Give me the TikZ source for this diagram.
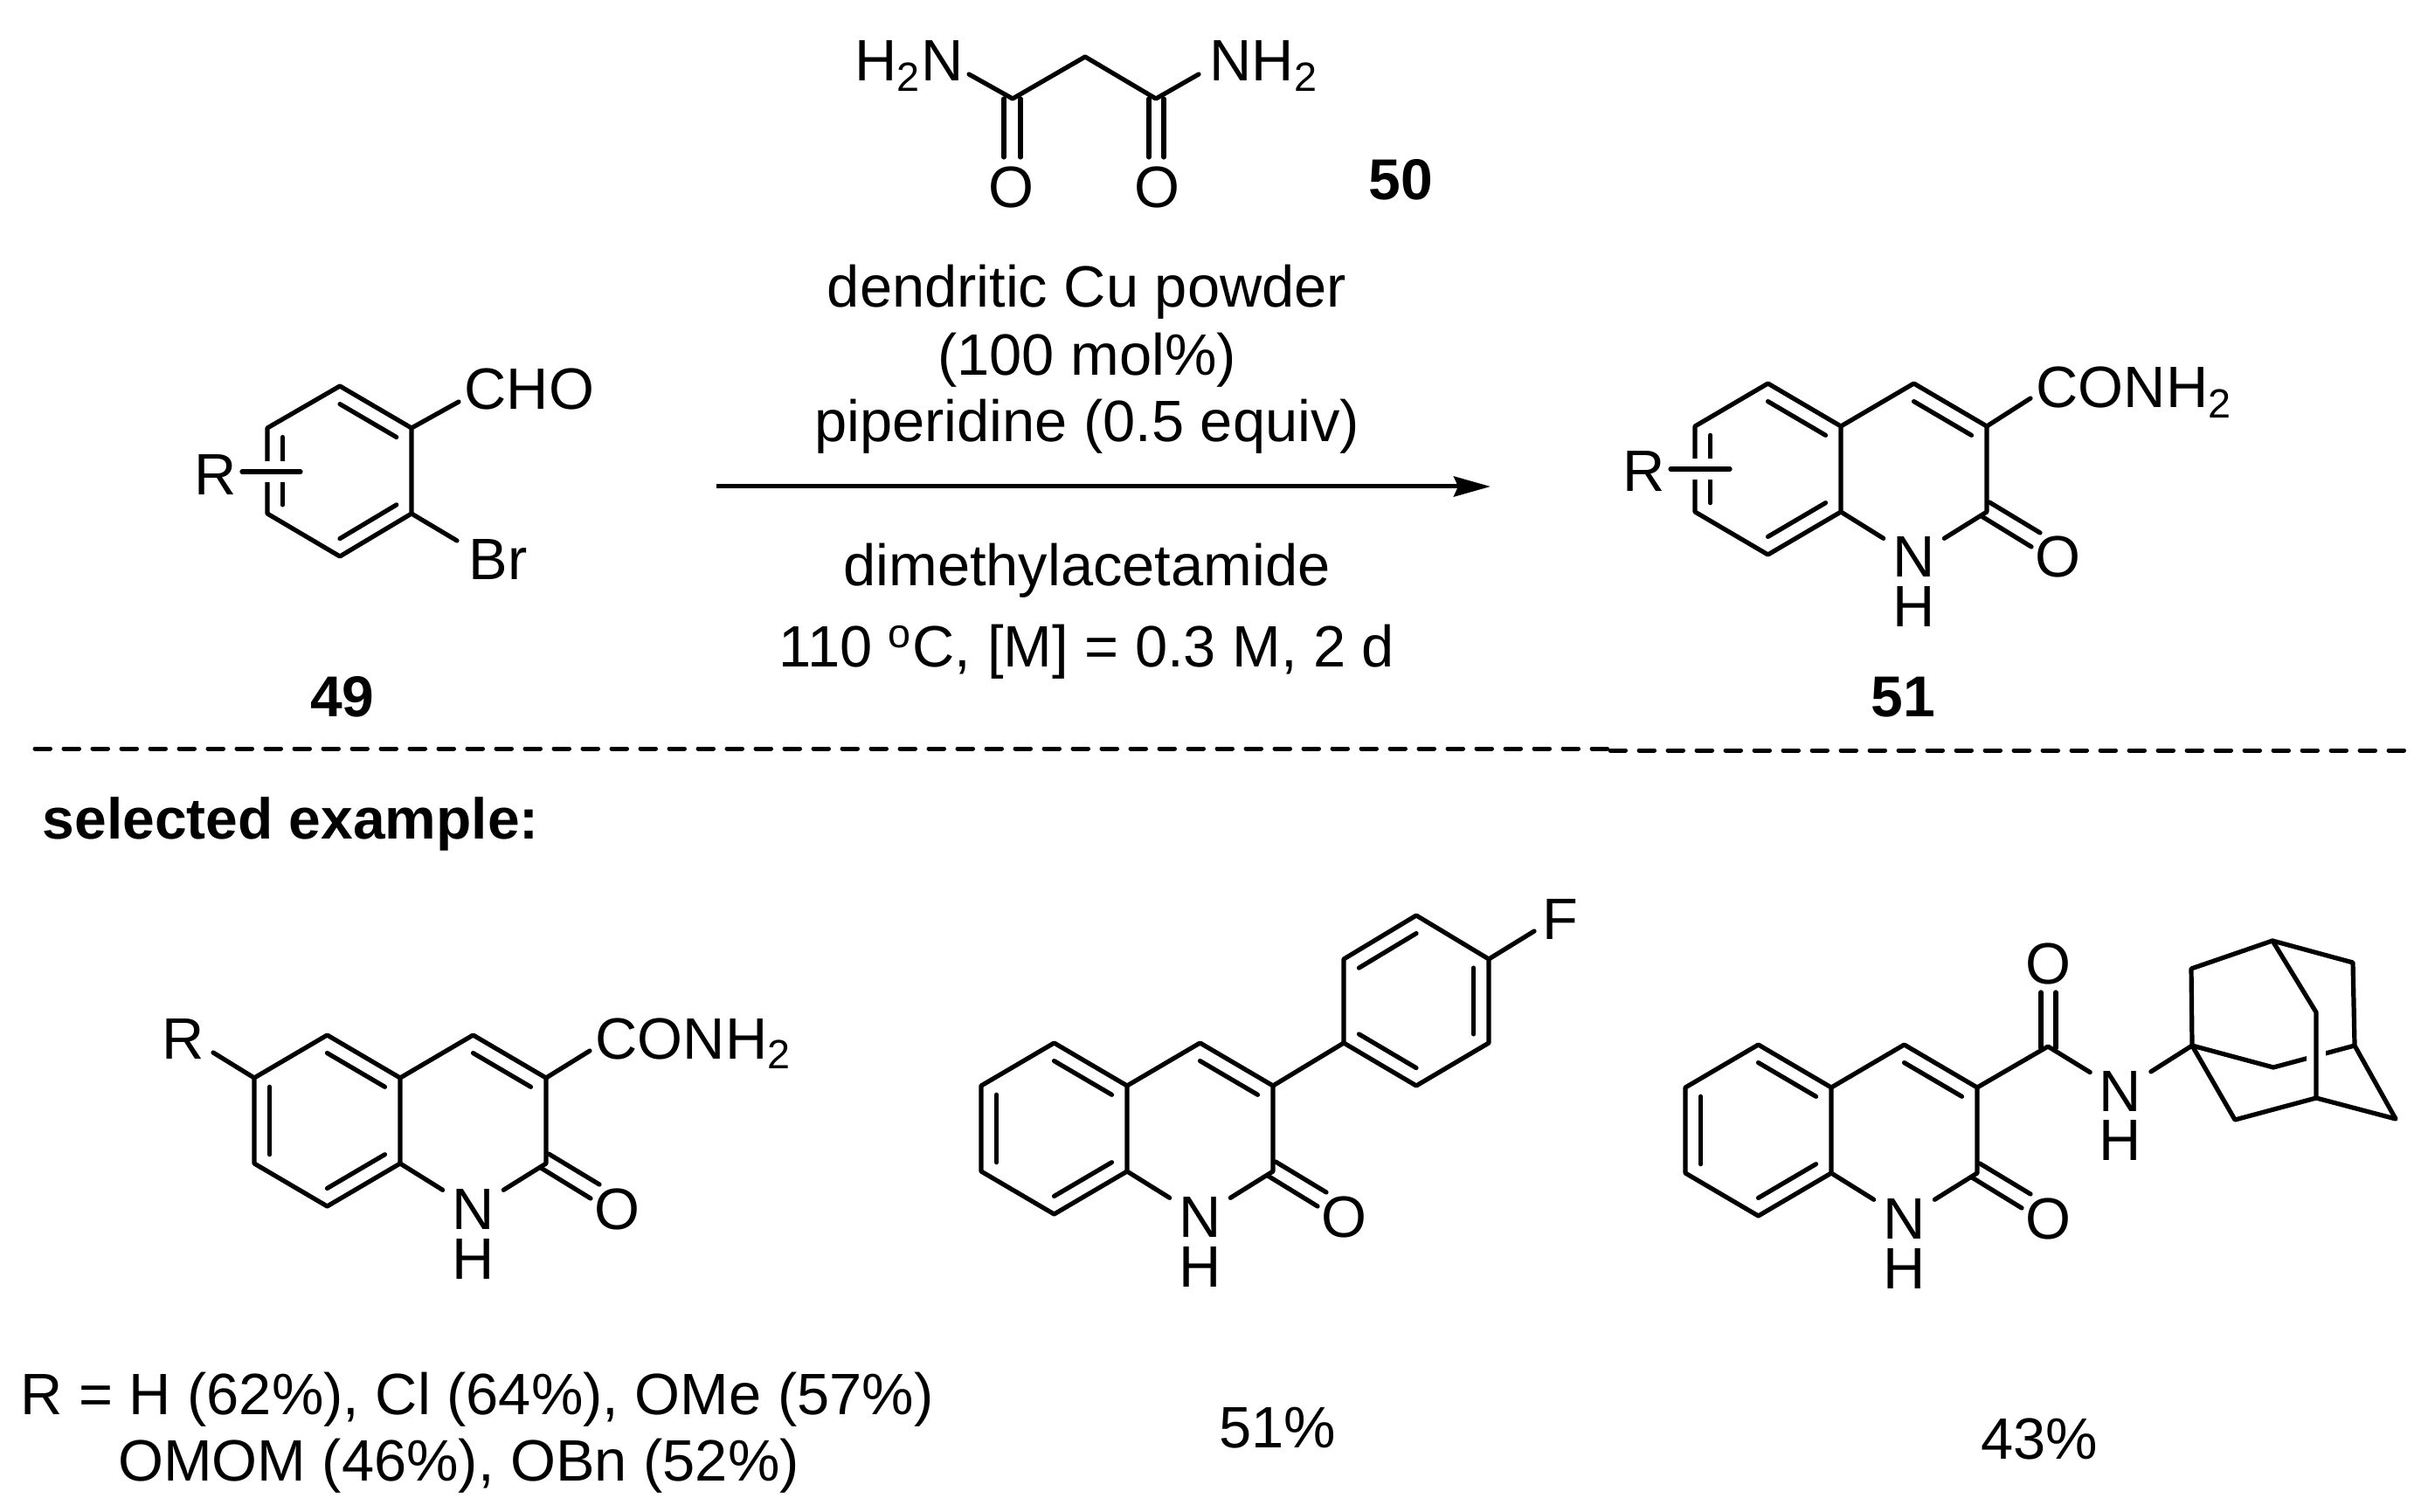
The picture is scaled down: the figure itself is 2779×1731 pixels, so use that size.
\documentclass[tikz,border=0pt]{standalone}
\usepackage{fontspec}
\setmainfont{Liberation Sans}
\usetikzlibrary{arrows.meta, calc}

\newcommand{\dbl}[3]{\draw[bond style] ($(#3)!0.79!(#1)$) -- ($(#3)!0.79!(#2)$);}

\newcommand{\quinolone}[3]{%
\begin{scope}[shift={(#2,#3)},name prefix=#1-]
\coordinate (f1) at (0,0);
\coordinate (f2) at (0,98);
\coordinate (l1) at (-83.5,-49);
\coordinate (l2) at (-167,0);
\coordinate (l3) at (-167,98);
\coordinate (l4) at (-83.5,147);
\coordinate (r1) at (83.5,-49);
\coordinate (r2) at (167,0);
\coordinate (r3) at (167,98);
\coordinate (cl) at (-83.5,49);
\coordinate (cr) at (83.5,49);
\node[atom style] (N) at (83.5,173) {N};
\node[text style] (H) at (83.5,230) {H};
\node[text style] (O) at (248.5,173) {O};
\draw[bond style] (f2) -- (f1) -- (l1) -- (l2) -- (l3) -- (l4) -- (f2) -- (N);
\draw[bond style] (f1) -- (r1) -- (r2) -- (r3) -- (N);
\dbl{f1}{l1}{cl}
\dbl{l2}{l3}{cl}
\dbl{l4}{f2}{cl}
\dbl{r1}{r2}{cr}
\draw[bond style] ($(r3)+(3,-11)$) -- ($(r3)+(61,24)$);
\draw[bond style] ($(r3)+(-6,5)$) -- ($(r3)+(51,40)$);
\end{scope}}

\begin{document}
\begin{tikzpicture}[x=0.01cm,y=-0.01cm,
  every node/.style={font=\fontsize{19pt}{22pt}\selectfont},
  atom style/.style={anchor=base,inner sep=0.1cm},
  label style/.style={anchor=base west,inner sep=0pt},
  num style/.style={anchor=base,inner sep=0pt,font=\fontsize{18.75pt}{22pt}\selectfont\bfseries},
  text style/.style={anchor=base,inner sep=0pt,align=center},
  bond style/.style={line width=0.052cm,line cap=round,line join=round},
  halo style/.style={line width=0.23cm,white},
  rule style/.style={line width=0.05cm,line cap=round,dash pattern=on 17.5*0.01cm off 15.5*0.01cm}
]
\useasboundingbox (0,0) rectangle (2779,1731);

% aldehyde 49
\coordinate (a1) at (389,442);
\coordinate (a2) at (471,490);
\coordinate (a3) at (471,588);
\coordinate (a4) at (389,637);
\coordinate (a5) at (306,588);
\coordinate (a6) at (306,490);
\coordinate (ac) at (389,540);
\coordinate (aCHO) at (525,460);
\coordinate (aBr) at (523,619);
\coordinate (aRl) at (277,540);
\coordinate (aRr) at (344,540);
\draw[bond style] (a1) -- (a2) -- (a3) -- (a4) -- (a5) -- (a6) -- cycle;
\dbl{a1}{a2}{ac}
\dbl{a3}{a4}{ac}
\dbl{a5}{a6}{ac}
\draw[bond style] (a2) -- (aCHO);
\draw[bond style] (a3) -- (aBr);
\draw[halo style] (aRl) -- (aRr);
\draw[bond style] (aRl) -- (aRr);
\node[label style] (CHO) at (531,469) {CHO};
\node[label style] (Br) at (536,663) {Br};
\node[text style] (Ra) at (247,567) {R};
\node[num style] (n49) at (392,820) {49};

% malonamide 50
\coordinate (m1) at (1159,113);
\coordinate (m2) at (1242,65);
\coordinate (m3) at (1323,113);
\coordinate (mL) at (1109,85);
\coordinate (mR) at (1372,85);
\draw[bond style] (mL) -- (m1) -- (m2) -- (m3) -- (mR);
\node[label style] (H2N) at (978,93) {H\textsubscript{2}N};
\node[label style] (NH2) at (1384,93) {NH\textsubscript{2}};
\node[text style] (Om1) at (1157,238) {O};
\node[text style] (Om2) at (1324,238) {O};
\draw[bond style] (1149,113) -- (1149,180);
\draw[bond style] (1168,113) -- (1168,180);
\draw[bond style] (1315,113) -- (1315,180);
\draw[bond style] (1332,113) -- (1332,180);
\node[num style] (n50) at (1603,229) {50};

% conditions
\node[text style] (cond1) at (1244,352) {dendritic Cu powder};
\node[text style] (cond2) at (1244,430) {(100 mol\%)};
\node[text style] (cond3) at (1244,506) {piperidine (0.5 equiv)};
\node[text style] (cond4) at (1244,671) {dimethylacetamide};
\node[text style] (cond5) at (1244,764) {110 \textsuperscript{o}C, [M] = 0.3 M, 2 d};
\coordinate (arrowstart) at (820,557);
\coordinate (arrowend) at (1706,557);
\draw[line width=0.05cm,-{Stealth[length=0.42cm,width=0.23cm,inset=0.05cm]}] (arrowstart) -- (arrowend);

% product 51
\quinolone{qa}{2107}{488}
\coordinate (qaC) at (2324,456);
\coordinate (qaRl) at (1912,537);
\coordinate (qaRr) at (1980,537);
\draw[bond style] (qa-r2) -- (qaC);
\draw[halo style] (qaRl) -- (qaRr);
\draw[bond style] (qaRl) -- (qaRr);
\node[label style] (qaCONH) at (2330,467) {CONH\textsubscript{2}};
\node[text style] (qaR) at (1882,563) {R};
\node[num style] (n51) at (2178,820) {51};

% dashed rule
\coordinate (ruleA) at (40,857);
\coordinate (ruleB) at (1842,857);
\coordinate (ruleC) at (1843,859);
\coordinate (ruleD) at (2755,859);
\draw[rule style] (ruleA) -- (ruleB);
\draw[rule style] (ruleC) -- (ruleD);

\node[label style,font=\fontsize{18.75pt}{22pt}\selectfont\bfseries] (sel) at (48,960) {selected example:};

% example with R
\quinolone{qb}{458}{1234}
\coordinate (qbC) at (675,1203);
\coordinate (qbR) at (244,1205);
\draw[bond style] (qb-r2) -- (qbC);
\draw[bond style] (qb-l2) -- (qbR);
\node[label style] (qbCONH) at (681,1212) {CONH\textsubscript{2}};
\node[text style] (qbRl) at (210,1212) {R};
\node[text style] (yield1) at (546,1619) {R = H (62\%), Cl (64\%), OMe (57\%)};
\node[text style] (yield2) at (525,1695) {OMOM (46\%), OBn (52\%)};

% example with fluorophenyl
\quinolone{qc}{1290}{1243}
\coordinate (p1) at (1538,1194);
\coordinate (p2) at (1538,1098);
\coordinate (p3) at (1621,1048);
\coordinate (p4) at (1704,1098);
\coordinate (p5) at (1704,1194);
\coordinate (p6) at (1621,1243);
\coordinate (pc) at (1621,1146);
\coordinate (pF) at (1756,1066);
\draw[bond style] (p1) -- (p2) -- (p3) -- (p4) -- (p5) -- (p6) -- cycle;
\dbl{p2}{p3}{pc}
\dbl{p4}{p5}{pc}
\dbl{p6}{p1}{pc}
\draw[bond style] (qc-r2) -- (p1);
\draw[bond style] (p4) -- (pF);
\node[text style] (F) at (1786,1075) {F};
\node[text style] (yield3) at (1462,1657) {51\%};

% example with adamantyl
\quinolone{qd}{2096}{1245}
\coordinate (dC) at (2344,1198);
\node[atom style] (dN) at (2427,1272) {N};
\node[text style] (dH) at (2427,1328) {H};
\node[text style] (dO) at (2344,1126) {O};
\coordinate (ad1) at (2509,1197);
\coordinate (ad2) at (2508,1109);
\coordinate (ad3) at (2601,1077);
\coordinate (ad4) at (2693,1102);
\coordinate (ad5) at (2695,1197);
\coordinate (ad6) at (2742,1281);
\coordinate (ad7) at (2651,1257);
\coordinate (ad8) at (2558,1282);
\coordinate (ad9) at (2602,1222);
\coordinate (ad10) at (2651,1159);
\draw[bond style] (qd-r2) -- (dC) -- (dN) -- (ad1);
\draw[bond style] (2336,1200) -- (2336,1136);
\draw[bond style] (2353,1200) -- (2353,1136);
\draw[bond style] (ad1) -- (ad2) -- (ad3) -- (ad4) -- (ad5) -- (ad6) -- (ad7) -- (ad8) -- (ad1);
\draw[bond style] (ad1) -- (ad9) -- (ad5);
\draw[line width=0.22cm,white,shorten >=0.3cm,shorten <=0.3cm] (ad10) -- (ad7);
\draw[bond style] (ad3) -- (ad10) -- (ad7);
\node[text style] (yield4) at (2334,1670) {43\%};

\end{tikzpicture}
\end{document}
